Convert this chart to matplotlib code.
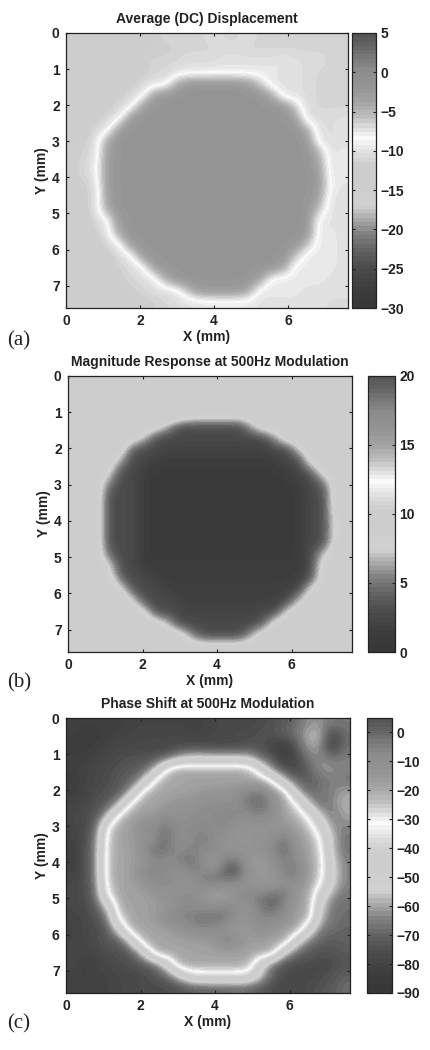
import numpy as np
import matplotlib
matplotlib.use('Agg')
import matplotlib.pyplot as plt
from matplotlib.colors import LinearSegmentedColormap

plt.rcParams['font.family'] = ['Liberation Sans', 'DejaVu Sans']

# gray levels, bottom to top
bar_fracs = [0, .06, .14, .2, .27, .3, .34, .37, .45, .52, .57, .62, .66, .7, .75, .8, .87, .92, .96, 1]
bar_grays = [55, 60, 75, 95, 130, 155, 185, 210, 205, 205, 225, 250, 220, 190, 165, 150, 140, 120, 100, 85]

titles = ['Average (DC) Displacement', 'Magnitude Response at 500Hz Modulation', 'Phase Shift at 500Hz Modulation']
panel_tags = ['(a)', '(b)', '(c)']
value_ranges = [(-30, 5), (0, 20), (-90, 5)]
bar_ticks = [list(range(-30, 6, 5)), list(range(0, 21, 5)), list(range(-90, 1, 10))]
x_ticks = [0, 2, 4, 6]
y_ticks = [0, 1, 2, 3, 4, 5, 6, 7]

# displacement map, rows top to bottom
dc_map = [
    [-13,-13,-13,-13,-13,-13,-12,-12,-11,-11,-11,-11,-10.5,-11,-11,-10.5,-11,-11,-11,-11,-11,-11,-11,-11],
    [-13,-13,-13,-13,-13,-13,-12,-12,-12,-11,-11,-11,-11,-10.5,-10.5,-11,-11,-11,-11,-11,-11,-11,-11,-11],
    [-13,-13,-13,-13,-13,-13,-12,-11,-11,-11,-10.5,-10.5,-10.5,-10,-10,-10,-10,-10,-9.5,-10,-10.5,-10.5,-11,-11],
    [-13,-13,-13,-13,-13,-12,-12,-11,-11,-10,-9.5,-9.5,-9.5,-9.5,-9.5,-9.5,-9.5,-9.5,-10,-10,-10.5,-11,-11,-11],
    [-13,-13,-13,-13,-12,-12,-11,-10,-9.5,-4,-2,-2,-2,-2,-2,-3,-6,-10,-10,-10,-10.5,-11,-11,-11],
    [-13,-13,-13,-12,-12,-11,-9.5,-3,-2,-2,-2,-2,-2,-2,-2,-2,-2,-4,-10,-10,-10.5,-11,-11,-11],
    [-13,-13,-13,-12,-11,-9.5,-3,-2,-2,-2,-2,-2,-2,-2,-2,-2,-2,-2,-2,-6,-10.5,-11,-11,-11],
    [-13,-13,-12,-11,-9.5,-2.5,-2,-2,-2,-2,-2,-2,-2,-2,-2,-2,-2,-2,-2,-3,-10,-10.5,-10.5,-10],
    [-12.5,-12.5,-11,-9.5,-3,-2,-2,-2,-2,-2,-2,-2,-2,-2,-2,-2,-2,-2,-2,-2,-4,-10,-10.5,-10],
    [-12,-12,-10,-4,-2,-2,-2,-2,-2,-2,-2,-2,-2,-2,-2,-2,-2,-2,-2,-2,-2,-9.5,-10.5,-10],
    [-12,-11.5,-10,-3.5,-2,-2,-2,-2,-2,-2,-2,-2,-2,-2,-2,-2,-2,-2,-2,-2,-2,-4.5,-10,-9.5],
    [-12,-11,-9.5,-3,-2,-2,-2,-2,-2,-2,-2,-2,-2,-2,-2,-2,-2,-2,-2,-2,-2,-3.5,-10,-9.5],
    [-12,-11,-9.5,-3,-2,-2,-2,-2,-2,-2,-2,-2,-2,-2,-2,-2,-2,-2,-2,-2,-2,-2.5,-9.5,-9.5],
    [-12.5,-12,-10.5,-3,-2,-2,-2,-2,-2,-2,-2,-2,-2,-2,-2,-2,-2,-2,-2,-2,-2,-2.5,-9,-10],
    [-13,-12,-10.5,-3.5,-2,-2,-2,-2,-2,-2,-2,-2,-2,-2,-2,-2,-2,-2,-2,-2,-2,-3.5,-10,-10],
    [-13,-12.5,-10,-4.5,-2,-2,-2,-2,-2,-2,-2,-2,-2,-2,-2,-2,-2,-2,-2,-2,-2,-6,-10,-10],
    [-13,-13,-11,-9.5,-3,-2,-2,-2,-2,-2,-2,-2,-2,-2,-2,-2,-2,-2,-2,-2,-2,-9.5,-10,-10],
    [-13,-13,-12,-9.5,-4,-2,-2,-2,-2,-2,-2,-2,-2,-2,-2,-2,-2,-2,-2,-2,-2,-9.5,-9.5,-10],
    [-13,-13,-13,-11,-9.5,-3,-2,-2,-2,-2,-2,-2,-2,-2,-2,-2,-2,-2,-2,-2,-6,-9.5,-9.5,-10],
    [-13,-13,-13,-12.5,-10.5,-9.5,-3,-2,-2,-2,-2,-2,-2,-2,-2,-2,-2,-2,-2,-6,-9.5,-9.5,-9.5,-10],
    [-13,-13,-13,-13,-11.5,-10.5,-9.5,-3.5,-2,-2,-2,-2,-2,-2,-2,-2,-2,-2,-4,-9.5,-9.5,-9.5,-9.5,-10],
    [-13,-13,-12.5,-12.5,-12,-11,-10.5,-9.5,-4.5,-2,-2,-2,-2,-2,-2,-2,-3.5,-9.5,-9.5,-9.5,-9.5,-9.5,-10,-10],
    [-12.5,-12.5,-12.5,-12.5,-12,-12,-11,-10.5,-10,-9.5,-5,-2.5,-2.5,-2.5,-2.5,-4,-9.5,-9.5,-9.5,-9.5,-10,-10,-10,-10],
    [-12.5,-12.5,-12.5,-12.5,-12.5,-12,-12,-11.5,-11,-10.5,-10,-10,-9.5,-9.5,-9.5,-9.5,-10,-10,-10,-10,-10,-10,-10.5,-10.5],
]

# magnitude map
magnitude_map = [
    [9.5,9.5,9.5,9.5,9.5,9.5,9.5,9.5,9.5,9.5,9.5,9.5,9.5,9.5,9.5,9.5,9.5,9.5,9.5,9.5,9.5,9.5,9.5,9.5],
    [9.5,9.5,9.5,9.5,9.5,9.5,9.5,9.5,9.5,9.5,9.5,9.5,9.5,9.5,9.5,9.5,9.5,9.5,9.5,9.5,9.5,9.5,9.5,9.5],
    [9.5,9.5,9.5,9.5,9.5,9.5,9.5,9.5,9.5,10.5,10.5,9.5,10,9.5,9.5,9.5,9.5,9.5,9.5,9.5,9.5,9.5,9.5,9.5],
    [9.5,10.5,9.5,9.5,9.5,9.5,9.5,9.5,11.5,11,9.5,9.5,9.5,9.5,9.5,9.5,9.5,9.5,9.5,9.5,9.5,9.5,9.5,9.5],
    [9.5,9.5,9.5,9.5,9.5,9.5,9.5,9.5,6,2.8,2.8,2.8,2.8,2.8,2.8,6.5,9.5,9.5,9.5,9.5,9.5,9.5,9.5,9.5],
    [9.5,9.5,9.5,9.5,9.5,9.5,7,2.8,2.8,2.8,2.8,2.8,2.8,2.8,2.8,2.8,2.8,6,9.5,9.5,9.5,9.5,9.5,9.5],
    [9.5,9.5,9.5,9.5,9.5,3.5,2.8,2.8,2,2,2,2,2,2,2,2,2,2.8,2.8,7.5,9.5,9.5,9.5,9.5],
    [9.5,9.5,9.5,9.5,6,2.8,2.8,1.3,1.3,1.3,1.3,1.3,1.3,1.3,1.3,1.3,1.3,1.3,2.8,2.8,9,9.5,9.5,9.5],
    [9.5,9.5,9.5,8,3,2.8,1.2,1.2,1.2,1.2,1.2,1.2,1.2,1.2,1.2,1.2,1.2,1.2,1.2,2.8,3.5,8.5,9.5,9.5],
    [9.5,9.5,9.5,5,2.8,2.8,1.2,1.2,1.2,1.2,1.2,1.2,1.2,0.6,1.2,1.2,1.2,1.2,1.2,1.2,2.8,4,9,9.5],
    [9.5,9.5,9.5,3.2,2.8,2.8,1.2,1.2,1.2,1.2,1.2,1.2,1.2,1.2,1.2,1.2,1.2,1.2,1.2,1.2,2.8,3,9,9.5],
    [9.5,9.5,9.5,3.2,2.8,2.8,1.2,1.2,1.2,1.2,1.2,1.2,1.2,1.2,1.2,1.2,1.2,1.2,1.2,1.2,2.8,3,9,9.5],
    [9.5,9.5,9.5,3.2,2.8,2.8,1.2,1.2,1.2,1.2,1.2,1.2,1.2,1.2,1.2,1.2,1.2,1.2,1.2,1.2,2.8,3,8,9.5],
    [9.5,9.5,9.5,3.2,2.8,2.8,1.2,1.2,1.2,1.2,1.2,1.2,1.2,1.2,1.2,1.2,1.2,1.2,1.2,1.2,2.8,3,8,9.5],
    [10.5,9.5,9.5,3.2,2.8,2.8,1.2,1.2,1.2,1.2,1.2,1.2,1.2,1.2,1.2,1.2,1.2,1.2,1.2,1.2,2.8,3,8.5,9.5],
    [9.5,9.5,9.5,4.5,2.8,2.8,1.2,1.2,1.2,1.2,1.2,1.2,1.2,1.2,1.2,1.2,1.2,1.2,1.2,1.2,2.8,7,9.5,9.5],
    [9.5,9.5,9.5,8,3,2.8,1.3,1.3,1.3,1.3,1.3,1.3,1.3,1.3,1.3,1.3,1.3,1.3,1.3,1.3,3,9,9.5,9.5],
    [9.5,10.5,9.5,9,4,2.8,2.8,1.5,1.5,1.5,1.5,1.5,1.5,1.5,1.5,1.5,1.5,1.5,1.5,1.5,3.5,9,9.5,9.5],
    [9.5,10.5,10.5,9.5,8.5,3.2,2.8,2.8,1.6,1.6,1.6,1.6,1.6,1.6,1.6,1.6,1.6,1.6,1.6,3,8,9.5,9.5,9.5],
    [9.5,9.5,10,9.5,9.5,8,3,2.8,2.8,1.8,1.8,1.8,1.8,1.8,1.8,1.8,1.8,1.8,3,7,9.5,9.5,9.5,9.5],
    [9.5,9.5,9.5,9.5,9.5,9.5,8.5,3,2.8,2.8,2,2,2,2,2,2,2.8,3,8,9.5,9.5,9.5,9.5,9.5],
    [9.5,9.5,9.5,9.5,9.5,9.5,9.5,9.5,7,2.8,2.8,2.8,2.8,2.8,2.8,2.8,4,9.5,9.5,9.5,9.5,9.5,9.5,9.5],
    [9.5,9.5,9.5,9.5,9.5,9.5,9.5,9.5,9.5,9.5,5.5,3,3,3,3,6.5,9.5,9.5,9.5,9.5,9.5,9.5,9.5,9.5],
    [9.5,9.5,9.5,9.5,9.5,9.5,9.5,9.5,9.5,9.5,9.5,9.5,9.5,9.5,9.5,9.5,9.5,9.5,9.5,9.5,9.5,9.5,9.5,9.5],
]

# phase map
phase_map = [
    [-82,-82,-82,-82,-82,-80,-80,-80,-80,-80,-80,-80,-78,-78,-78,-78,-76,-74,-72,-68,-62,-62,-66,-66],
    [-82,-84,-84,-82,-80,-80,-78,-78,-78,-78,-80,-80,-78,-78,-76,-76,-74,-74,-70,-66,-58,-58,-78,-68],
    [-84,-84,-82,-80,-78,-78,-78,-78,-78,-76,-74,-74,-76,-76,-76,-74,-74,-80,-84,-72,-60,-62,-80,-68],
    [-82,-82,-80,-78,-76,-74,-74,-72,-68,-58,-54,-54,-54,-54,-54,-56,-68,-72,-84,-76,-66,-62,-66,-64],
    [-82,-80,-78,-76,-74,-72,-70,-58,-28,-19,-19,-19,-19,-19,-19,-22,-42,-64,-72,-78,-70,-62,-62,-64],
    [-84,-80,-78,-76,-72,-70,-58,-27,-19,-19,-19,-19,-19,-19,-19,-19,-19,-32,-56,-68,-72,-68,-64,-66],
    [-82,-80,-76,-74,-72,-58,-25,-19,-19,-19,-17,-15,-14,-13,-10,-5,-3,-14,-24,-56,-68,-66,-64,-60],
    [-80,-78,-74,-72,-58,-27,-19,-19,-17,-12,-14,-9,-10,-9,-10,-2,0,-8,-19,-30,-56,-68,-64,-58],
    [-78,-76,-74,-58,-26,-19,-17,-15,-8,-12,-9,-9,-8,-6,-8,-9,-6,-11,-19,-22,-33,-56,-66,-60],
    [-80,-76,-70,-30,-19,-17,-9,-7,-3,-10,-8,-8,-9,-8,-12,-12,-12,-12,-14,-19,-24,-42,-62,-64],
    [-80,-76,-66,-26,-19,-17,-13,-9,-1,-10,-8,-4,-8,-12,-14,-14,-12,-10,-3,-14,-20,-30,-58,-66],
    [-82,-76,-64,-25,-19,-18,-11,-1,-3,-9,-6,-8,-8,-12,-12,-13,-10,-8,0,-12,-19,-27,-58,-66],
    [-82,-76,-64,-24,-19,-18,-14,-8,-10,-6,-1,-8,-18,-4,-2,-16,-18,-9,-7,-6,-18,-25,-54,-64],
    [-80,-76,-64,-24,-19,-18,-8,-6,-7,-12,-9,-6,-6,2,3,-12,-15,-14,-5,-3,-17,-26,-52,-64],
    [-78,-76,-66,-26,-19,-18,-14,-9,-9,-11,-12,-7,-5,-8,-10,-14,-15,-15,-10,-12,-18,-30,-54,-64],
    [-78,-76,-68,-31,-19,-18,-18,-15,-12,-10,-9,-12,-22,-20,-10,-6,-4,0,-2,-15,-19,-46,-62,-66],
    [-78,-76,-72,-56,-21,-19,-18,-17,-14,-9,-8,-9,-8,-6,-10,-13,-3,0,-8,-17,-20,-54,-66,-68],
    [-80,-78,-74,-66,-28,-19,-18,-16,-9,-6,-5,-1,-2,-4,-12,-11,-8,-7,-10,-18,-22,-58,-66,-68],
    [-80,-78,-76,-72,-52,-21,-19,-19,-18,-14,-10,-8,-10,-12,-17,-17,-9,-14,-18,-20,-46,-66,-68,-70],
    [-80,-78,-76,-72,-72,-54,-22,-19,-19,-19,-18,-17,-15,-4,-9,-17,-18,-19,-20,-50,-66,-70,-72,-70],
    [-78,-80,-78,-76,-74,-72,-56,-22,-19,-19,-19,-19,-19,-19,-19,-19,-19,-22,-56,-68,-72,-74,-74,-72],
    [-78,-82,-80,-78,-76,-74,-72,-68,-50,-21,-19,-19,-19,-19,-19,-22,-50,-68,-74,-76,-76,-78,-76,-74],
    [-80,-82,-80,-80,-78,-78,-76,-74,-68,-56,-38,-36,-36,-36,-36,-38,-56,-70,-76,-78,-78,-76,-74,-70],
    [-80,-80,-80,-80,-78,-78,-76,-76,-76,-74,-72,-70,-70,-70,-68,-70,-72,-76,-78,-78,-76,-74,-72,-68],
]

maps = [dc_map, magnitude_map, phase_map]

# left, top, right, bottom in pixels of the 430x1050 page
W, H = 430, 1050
map_boxes = [(66, 33, 348, 308), (68, 376, 352, 652), (66, 718, 350, 993)]
bar_boxes = [(352, 33, 376, 308), (368, 376, 395, 652), (367, 718, 392, 993)]
tag_pos = [(7, 341), (7, 683), (7, 1024)]
map_size = 7.62
ink = '#222222'


def px_axes(fig, box):
    l, t, r, b = box
    return fig.add_axes([l / W, 1 - b / H, (r - l) / W, (b - t) / H])


gray = LinearSegmentedColormap.from_list(
    'jet_gray',
    [(f, str(g / 255)) for f, g in zip(bar_fracs, bar_grays)],
    N=64,
)

fig = plt.figure(figsize=(W / 100, H / 100), dpi=100)

for i in range(3):
    ax = px_axes(fig, map_boxes[i])
    vmin, vmax = value_ranges[i]
    im = ax.imshow(np.array(maps[i], dtype=float), cmap=gray, vmin=vmin, vmax=vmax,
                   extent=[0, map_size, map_size, 0], aspect='auto',
                   interpolation='bicubic', interpolation_stage='data')
    ax.set_xticks(x_ticks)
    ax.set_yticks(y_ticks)
    ax.tick_params(direction='in', top=True, right=True, length=2.5, width=0.8, pad=4.5,
                   labelsize=10, colors=ink)
    for lab in ax.get_xticklabels() + ax.get_yticklabels():
        lab.set_fontweight('bold')
    ax.set_xlabel('X (mm)', fontsize=10, fontweight='bold', color=ink, labelpad=1.5)
    ax.set_ylabel('Y (mm)', fontsize=10, fontweight='bold', color=ink, labelpad=2)
    ax.set_title(titles[i], fontsize=10, fontweight='bold', color=ink, pad=7)
    for s in ax.spines.values():
        s.set_linewidth(0.9)
        s.set_color(ink)

    cax = px_axes(fig, bar_boxes[i])
    cb = fig.colorbar(im, cax=cax, ticks=bar_ticks[i])
    cax.tick_params(direction='in', left=True, right=True, length=2.5, width=0.8, pad=3,
                    labelsize=10, colors=ink)
    for lab in cax.get_yticklabels():
        lab.set_fontweight('bold')
    cb.outline.set_linewidth(0.9)
    cb.outline.set_edgecolor(ink)

    fig.text(tag_pos[i][0] / W, 1 - tag_pos[i][1] / H, panel_tags[i], family='Liberation Serif',
             fontsize=15, color=ink, ha='left', va='center')

fig.savefig('out.png', dpi=100)
